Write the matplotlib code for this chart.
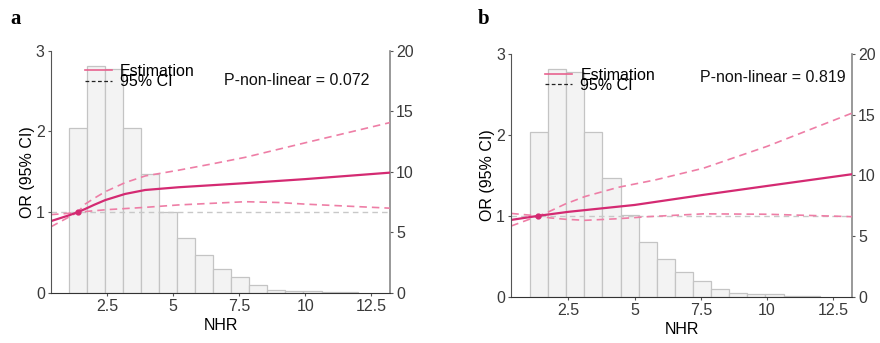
import matplotlib

matplotlib.use("Agg")
import matplotlib.pyplot as plt
import numpy as np

plt.rcParams["font.family"] = ["Liberation Sans", "DejaVu Sans"]

# histogram of NHR (right axis, counts), same in both panels
hist_edges = [1.05, 1.73, 2.42, 3.10, 3.78, 4.47, 5.15, 5.83, 6.52,
              7.20, 7.88, 8.57, 9.25, 9.93, 10.62, 11.30, 11.98]
hist_counts = [13.6, 18.75, 18.5, 13.6, 9.8, 6.7, 4.5, 3.1, 2.0,
               1.28, 0.64, 0.28, 0.2, 0.2, 0.07, 0.05]

# panel a: restricted cubic spline
a_est_x = [0.38, 1.0, 1.39, 1.67, 2.0, 2.43, 3.18, 3.94, 5.2, 7.73, 10.0, 13.2]
a_est_y = [0.89, 0.955, 1.00, 1.04, 1.09, 1.15, 1.226, 1.275, 1.309, 1.36, 1.41, 1.49]
a_up_x = [0.38, 1.0, 1.39, 1.67, 2.0, 2.43, 3.18, 3.94, 5.2, 6.5, 7.73, 10.0, 13.2]
a_up_y = [0.97, 0.985, 1.00, 1.10, 1.17, 1.254, 1.366, 1.449, 1.52, 1.60, 1.68, 1.86, 2.11]
a_lo_x = [0.38, 1.0, 1.39, 2.43, 3.94, 5.2, 7.73, 9.0, 10.0, 13.2]
a_lo_y = [0.82, 0.93, 1.00, 1.03, 1.06, 1.09, 1.13, 1.12, 1.10, 1.05]
a_ref = (1.39, 1.0)
a_p = "P-non-linear = 0.072"

# panel b
b_est_x = [0.34, 1.35, 2.5, 5.0, 7.6, 10.0, 13.2]
b_est_y = [0.95, 1.00, 1.05, 1.135, 1.26, 1.37, 1.515]
b_up_x = [0.34, 1.0, 1.35, 1.62, 2.38, 3.13, 4.39, 5.77, 7.6, 10.0, 13.2]
b_up_y = [1.03, 1.01, 1.00, 1.03, 1.147, 1.24, 1.354, 1.444, 1.59, 1.86, 2.27]
b_lo_x = [0.34, 1.0, 1.35, 1.8, 2.38, 3.13, 4.39, 5.5, 7.6, 10.0, 13.2]
b_lo_y = [0.875, 0.955, 1.00, 0.975, 0.958, 0.945, 0.965, 0.99, 1.025, 1.02, 0.99]
b_ref = (1.35, 1.0)
b_p = "P-non-linear = 0.819"

EST = "#d42a72"
CI = "#ee7ea6"
TICK = "#3a3a3a"
FS = 11.5


def panel(fig, rect, xlim, est, up, lo, ref, ptext, p_xy, label, label_xy, leg_xy):
    ax = fig.add_axes(rect)
    ax2 = ax.twinx()
    ax.set_zorder(ax2.get_zorder() + 1)
    ax.patch.set_visible(False)

    edges = np.array(hist_edges)
    ax2.bar(edges[:-1], hist_counts, width=np.diff(edges), align="edge",
            color="#f3f3f3", edgecolor="#c4c4c4", linewidth=0.9)
    ax2.set_ylim(0, 20)
    ax2.set_yticks([0, 5, 10, 15, 20])

    ax.axhline(1, color="#c8c8c8", linestyle=(0, (4, 3)), linewidth=1.0)
    ax.plot(*up, color=CI, linestyle=(0, (4.5, 3)), linewidth=1.2)
    ax.plot(*lo, color=CI, linestyle=(0, (4.5, 3)), linewidth=1.2)
    ax.plot(*est, color=EST, linewidth=1.6)
    ax.plot(*ref, "o", color=EST, markersize=3.5)

    ax.set_xlim(*xlim)
    ax.set_ylim(0, 3)
    ax.set_yticks([0, 1, 2, 3])
    ax.set_xticks([2.5, 5, 7.5, 10, 12.5])
    ax.set_xticklabels(["2.5", "5", "7.5", "10", "12.5"])
    ax.set_xlabel("NHR", fontsize=FS, labelpad=3)
    ax.set_ylabel("OR (95% CI)", fontsize=FS, labelpad=1)

    for a in (ax, ax2):
        a.spines["top"].set_visible(False)
        a.tick_params(labelsize=FS, colors="#555555", labelcolor=TICK,
                      length=2.5, width=0.8, pad=2)
    ax.spines["left"].set_color("#555555")
    ax.spines["bottom"].set_color("#333333")
    ax.spines["right"].set_visible(False)
    ax2.spines["left"].set_visible(False)
    ax2.spines["bottom"].set_visible(False)
    ax2.spines["right"].set_color("#888888")
    ax2.spines["right"].set_linewidth(1.2)

    h1, = ax.plot([], [], color="#e8628f", linewidth=1.2)
    h2, = ax.plot([], [], color="#222222", linestyle=(0, (3, 2)), linewidth=0.9)
    ax.legend([h1, h2], ["Estimation", "95% CI"], loc="upper left",
              bbox_to_anchor=leg_xy, frameon=False, fontsize=FS,
              labelspacing=-0.3, handlelength=1.7, handletextpad=0.5,
              borderpad=0, borderaxespad=0)
    ax.text(*p_xy, ptext, transform=ax.transAxes, ha="right",
            va="center", fontsize=FS, color="#111111")
    fig.text(*label_xy, label, fontsize=15, fontweight="bold",
             family="Liberation Serif", va="top")
    return ax


fig = plt.figure(figsize=(8.8, 3.43), dpi=100)
panel(fig, [0.058, 0.146, 0.385, 0.706], (0.38, 13.2),
      (a_est_x, a_est_y), (a_up_x, a_up_y), (a_lo_x, a_lo_y), a_ref,
      a_p, (0.94, 0.879), "a", (0.012, 0.975), (0.10, 0.945))
panel(fig, [0.581, 0.135, 0.387, 0.707], (0.34, 13.2),
      (b_est_x, b_est_y), (b_up_x, b_up_y), (b_lo_x, b_lo_y), b_ref,
      b_p, (0.982, 0.902), "b", (0.543, 0.975), (0.10, 0.945))
fig.savefig("out.png", dpi=100)
